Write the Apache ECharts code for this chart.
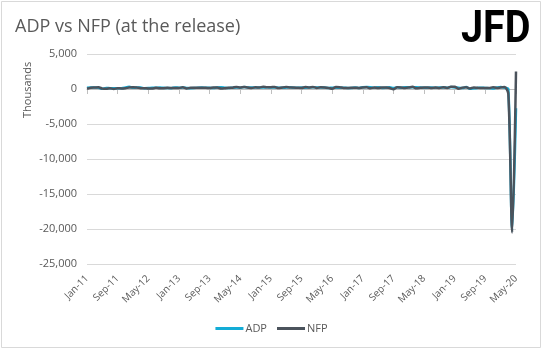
<!DOCTYPE html>
<html>
<head>
<meta charset="utf-8">
<script src="https://cdn.jsdelivr.net/npm/echarts@6/dist/echarts.min.js"></script>
<style>
	html, body { margin: 0; padding: 0; background: #fff; }
	#chart { width: 543px; height: 351px; }
</style>
</head>
<body>
<div id="chart"></div>
<script>
// monthly, Jan-11 .. May-20 (first release figures, thousands)
const monthNames = ['Jan', 'Feb', 'Mar', 'Apr', 'May', 'Jun', 'Jul', 'Aug', 'Sep', 'Oct', 'Nov', 'Dec']
const years = [11, 12, 13, 14, 15, 16, 17, 18, 19, 20]
const lastMonthCount = 5 // 2020 ends at May

const adp = [
	187, 217, 201, 179, 38, 157, 114, 91, 91, 110, 206, 325,
	170, 216, 209, 119, 133, 176, 163, 201, 162, 158, 118, 215,
	192, 198, 158, 119, 135, 188, 200, 176, 166, 130, 215, 238,
	175, 139, 191, 220, 179, 281, 218, 204, 213, 230, 208, 241,
	213, 212, 189, 169, 201, 237, 185, 190, 200, 182, 217, 257,
	205, 214, 200, 156, 173, 172, 179, 177, 154, 147, 216, 153,
	246, 298, 263, 177, 253, 158, 178, 237, 135, 235, 190, 250,
	234, 235, 241, 204, 178, 177, 219, 163, 230, 227, 179, 271,
	213, 183, 129, 275, 27, 102, 156, 195, 135, 125, 67, 202,
	291, 183, -27, -20236, -2760,
]
const nfp = [
	36, 192, 216, 244, 54, 18, 117, 0, 103, 80, 120, 200,
	243, 227, 120, 115, 69, 80, 163, 96, 114, 171, 146, 155,
	157, 236, 88, 165, 175, 195, 162, 169, 148, 204, 203, 74,
	113, 175, 192, 288, 217, 288, 209, 142, 248, 214, 321, 252,
	257, 295, 126, 223, 280, 223, 215, 173, 142, 271, 211, 292,
	151, 242, 215, 160, 38, 287, 255, 151, 156, 161, 178, 156,
	227, 235, 98, 211, 138, 222, 209, 156, -33, 261, 228, 148,
	200, 313, 103, 164, 223, 213, 157, 201, 134, 250, 155, 312,
	304, 20, 196, 263, 75, 224, 164, 130, 136, 128, 266, 145,
	225, 273, -701, -20500, 2509,
]

const categories = []
years.forEach((y, i) => {
	const n = i === years.length - 1 ? lastMonthCount : 12
	for (let m = 0; m < n; m++) categories.push(monthNames[m] + '-' + y)
})

const textColor = '#595959'
const font = "'Open Sans', sans-serif"

const myChart = echarts.init(document.getElementById('chart'))
myChart.setOption({
	animation: false,
	backgroundColor: '#fff',
	title: {
		text: 'ADP vs NFP (at the release)',
		left: 10,
		top: 13,
		textStyle: { fontFamily: font, fontSize: 18, fontWeight: 'normal', color: textColor },
	},
	graphic: [
		{
			type: 'rect',
			shape: { x: 1.5, y: 1.5, width: 539, height: 346 },
			style: { fill: 'none', stroke: '#d9d9d9', lineWidth: 1 },
			silent: true,
		},
		{
			type: 'text',
			x: 461,
			y: 9,
			scaleX: 0.9,
			style: {
				text: 'JFD',
				font: "bold 44px Roboto, 'DejaVu Sans', sans-serif",
				fill: new echarts.graphic.LinearGradient(0, 0, 0, 1, [
					{ offset: 0, color: '#33373e' },
					{ offset: 1, color: '#5a6068' },
				]),
			},
		},
		{
			type: 'text',
			x: 22,
			y: 118,
			rotation: Math.PI / 2,
			style: {
				text: 'Thousands',
				font: "11px 'Open Sans', sans-serif",
				fill: textColor,
			},
		},
	],
	legend: {
		bottom: 12,
		left: 'center',
		icon: 'rect',
		itemWidth: 28,
		itemHeight: 3,
		itemGap: 10,
		textStyle: { fontFamily: font, fontSize: 11, color: textColor, padding: [0, 0, 0, -3] },
		data: ['ADP', 'NFP'],
	},
	grid: { left: 87, right: 27, top: 54, bottom: 87 },
	xAxis: [
		{
			type: 'category',
			data: categories,
			boundaryGap: false,
			axisLine: { onZero: true, lineStyle: { color: '#bfbfbf', width: 1 } },
			axisTick: { show: true, interval: 7, length: 5, lineStyle: { color: '#bfbfbf' } },
			axisLabel: { show: false },
			splitLine: { show: false },
		},
		{
			type: 'category',
			data: categories,
			boundaryGap: false,
			position: 'bottom',
			axisLine: { show: false, onZero: false },
			axisTick: { show: false },
			axisLabel: {
				interval: 7,
				rotate: 45,
				margin: 13,
				fontFamily: font,
				fontSize: 10,
				color: textColor,
			},
		},
	],
	yAxis: {
		type: 'value',
		min: -25000,
		max: 5000,
		interval: 5000,
		axisLine: { show: false },
		axisTick: { show: false },
		axisLabel: {
			margin: 10,
			fontFamily: font,
			fontSize: 11,
			color: textColor,
			formatter: (v) => v.toLocaleString('en-US'),
		},
		splitLine: { lineStyle: { color: '#d9d9d9', width: 1 } },
	},
	series: [
		{
			name: 'ADP',
			type: 'line',
			data: adp,
			symbol: 'none',
			smooth: 0.3,
			lineStyle: { color: '#13acd6', width: 2.5 },
			itemStyle: { color: '#13acd6' },
		},
		{
			name: 'NFP',
			type: 'line',
			data: nfp,
			symbol: 'none',
			smooth: 0.3,
			lineStyle: { color: '#4b535c', width: 2.5 },
			itemStyle: { color: '#4b535c' },
		},
	],
})
</script>
</body>
</html>
